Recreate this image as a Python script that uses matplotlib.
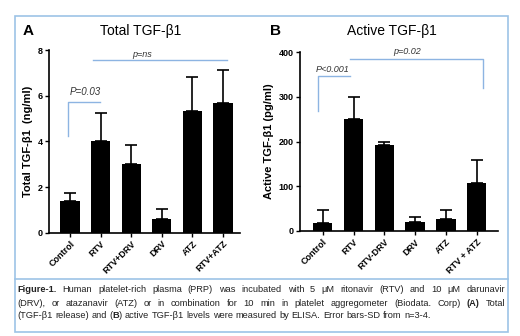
import matplotlib
matplotlib.use('Agg')
import matplotlib.pyplot as plt
from matplotlib.patches import Rectangle
from matplotlib.lines import Line2D

plt.rcParams['font.family'] = ['Liberation Sans', 'DejaVu Sans']

# data
cats_a = ['Control', 'RTV', 'RTV+DRV', 'DRV', 'ATZ', 'RTV+ATZ']
total_mean = [1.39, 4.03, 3.00, 0.60, 5.35, 5.69]
total_sd = [0.37, 1.22, 0.85, 0.43, 1.48, 1.43]

cats_b = ['Control', 'RTV', 'RTV-DRV', 'DRV', 'ATZ', 'RTV + ATZ']
active_mean = [18, 250, 192, 21, 27, 107]
active_sd = [29, 50, 8, 11, 21, 52]

W, H = 520, 336
fig = plt.figure(figsize=(W / 100, H / 100), dpi=100)
blue = '#9dc3e6'
bracket = '#8db4e2'


def px(x, y):
    return x / W, 1 - y / H


def bar_panel(ax, cats, mean, sd, ylim, yticks, ylabel):
    x = range(len(cats))
    ax.bar(x, mean, width=0.63, color='black')
    ax.errorbar(x, mean, yerr=[[0] * len(sd), sd], fmt='none', ecolor='black',
                elinewidth=1.2, capsize=4, capthick=1.2)
    ax.set_ylim(*ylim)
    ax.set_yticks(yticks)
    ax.set_xticks(list(x))
    ax.set_xticklabels(cats, rotation=45, ha='right', rotation_mode='anchor',
                       fontsize=6.5, fontweight='bold')
    for lab in ax.get_yticklabels():
        lab.set_fontsize(6.5)
        lab.set_fontweight('bold')
    ax.set_ylabel(ylabel, fontsize=8, fontweight='bold', labelpad=3)
    for s in ['top', 'right']:
        ax.spines[s].set_visible(False)
    for s in ['left', 'bottom']:
        ax.spines[s].set_linewidth(1.2)
    ax.tick_params(width=1.0, length=3, pad=1.5)
    ax.patch.set_alpha(0)


# panel A
axA = fig.add_axes([49 / W, 1 - 232.7 / H, (240 - 49) / W, (232.7 - 50) / H])
bar_panel(axA, cats_a, total_mean, total_sd, (0, 8), [0, 2, 4, 6, 8],
          'Total TGF-β1  (ng/ml)')
axA.set_xlim(-0.69, 5.56)
axA.plot([-0.08, -0.08, 0.98], [4.22, 5.71, 5.71], color=bracket, lw=1, clip_on=False)
axA.text(0.49, 6.15, 'P=0.03', style='italic', fontsize=7, ha='center', va='center', color='#333333')
axA.plot([0.76, 5.12], [7.58, 7.58], color=bracket, lw=1, clip_on=False)
axA.text(2.34, 7.81, 'p=ns', style='italic', fontsize=6.5, ha='center', va='center', color='#333333')

# panel B
axB = fig.add_axes([300 / W, 1 - 231 / H, (498 - 300) / W, (231 - 52) / H])
bar_panel(axB, cats_b, active_mean, active_sd, (0, 400), [0, 100, 200, 300, 400],
          'Active TGF-β1 (pg/ml)')
axB.set_xlim(-0.74, 5.69)
axB.plot([-0.16, -0.16, 0.89], [268, 346, 346], color=bracket, lw=1, clip_on=False)
axB.text(0.32, 361, 'P<0.001', style='italic', fontsize=6.5, ha='center', va='center', color='#333333')
axB.plot([0.89, 5.21, 5.21], [384, 384, 320], color=bracket, lw=1, clip_on=False)
axB.text(2.73, 401, 'p=0.02', style='italic', fontsize=6.5, ha='center', va='center', color='#333333')

# panel letters and titles
fig.text(*px(23, 31), 'A', fontsize=11, fontweight='bold', va='center')
fig.text(*px(141, 31), 'Total TGF-β1', fontsize=10, ha='center', va='center')
fig.text(*px(270, 31), 'B', fontsize=11, fontweight='bold', va='center')
fig.text(*px(392, 31), 'Active TGF-β1', fontsize=10, ha='center', va='center')

# frame and caption separator
fig.add_artist(Rectangle(px(15, 332), (508 - 15) / W, (332 - 16) / H,
                         transform=fig.transFigure, fill=False, ec=blue, lw=1.2))
fig.add_artist(Line2D([15 / W, 508 / W], [1 - 279 / H] * 2,
                      transform=fig.transFigure, color=blue, lw=1.2))

# caption, justified word by word
lines = [
    [[('Figure-1.', True)]] + [[(w, False)] for w in
     'Human platelet-rich plasma (PRP) was incubated with 5 μM ritonavir (RTV) and 10 μM darunavir'.split()],
    [[(w, False)] for w in
     '(DRV), or atazanavir (ATZ) or in combination for 10 min in platelet aggregometer (Biodata. Corp)'.split()]
    + [[('(A)', True)], [('Total', False)]],
    [[(w, False)] for w in '(TGF-β1 release) and'.split()]
    + [[('(', False), ('B', True), (')', False)]]
    + [[(w, False)] for w in 'active TGF-β1 levels were measured by ELISA.  Error bars-SD from n=3-4.'.split()],
]
x0, x1 = 17, 505
ys = [290, 303, 316]
fs = 6.7
renderer = fig.canvas.get_renderer()
space = fig.text(0, 0, 'a a', fontsize=fs).get_window_extent(renderer).width - \
    fig.text(0, 0, 'aa', fontsize=fs).get_window_extent(renderer).width
for t in fig.texts[-2:]:
    t.remove()
for i, words in enumerate(lines):
    objs = []
    widths = []
    for word in words:
        segs = []
        ww = 0
        for s, b in word:
            t = fig.text(0, 0, s, fontsize=fs, fontweight='bold' if b else 'normal',
                         va='center', color='#222222')
            w = t.get_window_extent(renderer).width
            segs.append((t, w))
            ww += w
        objs.append(segs)
        widths.append(ww)
    if i < len(lines) - 1:
        gap = (x1 - x0 - sum(widths)) / (len(words) - 1)
    else:
        gap = space
    x = x0
    for segs, ww in zip(objs, widths):
        xx = x
        for t, w in segs:
            t.set_position(px(xx, ys[i]))
            xx += w
        x += ww + gap

fig.savefig('out.png', dpi=100)
